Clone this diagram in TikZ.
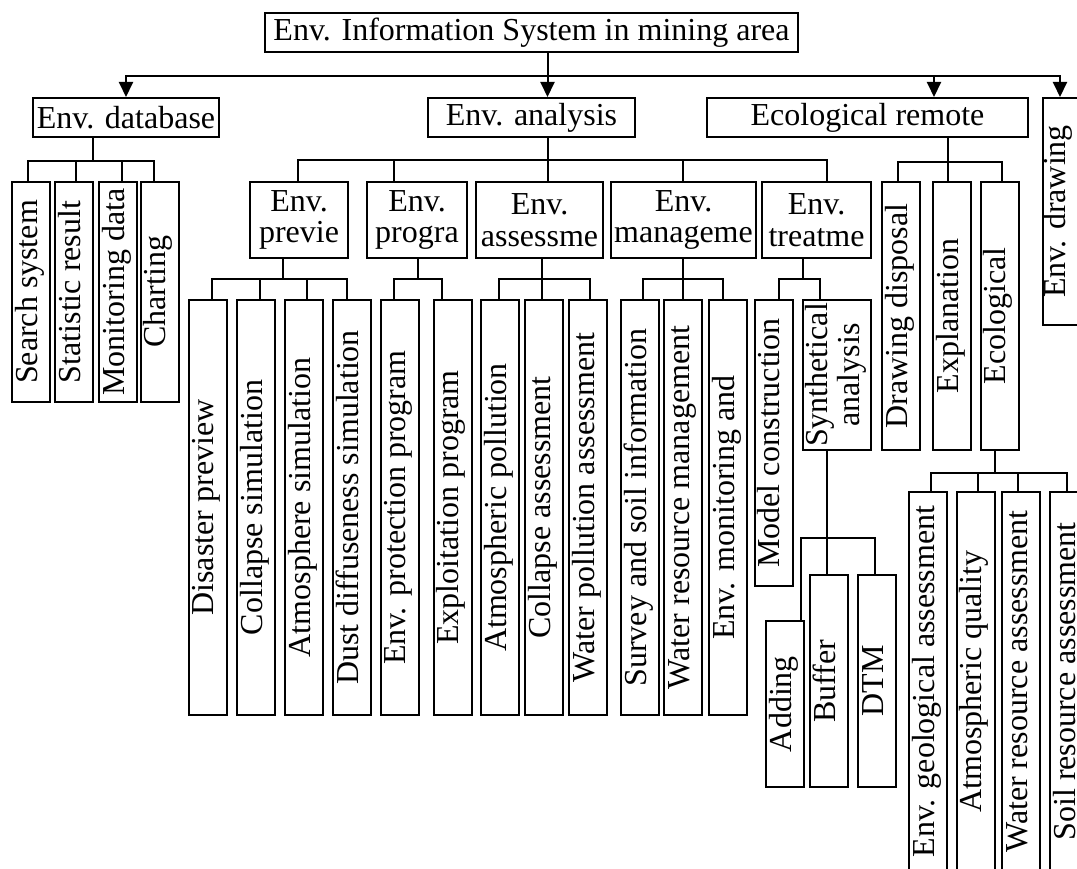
\documentclass[tikz,border=0pt]{standalone}
\usepackage{fontspec}
\setmainfont{Liberation Serif}
\usetikzlibrary{arrows.meta}
\newcommand{\vtxt}[1]{\rotatebox{90}{\strut #1}}
\begin{document}
\begin{tikzpicture}[x=1pt,y=-1pt,
  bx/.style={draw, line width=2pt, inner sep=0pt, font=\fontsize{32}{31.5}\selectfont, align=center},
  hd/.style={bx, minimum height=39},
  lv/.style={bx, minimum width=38},
  ln/.style={line width=2pt},
  arr/.style={ln, -{Triangle[width=14pt,length=15pt]}}]
\useasboundingbox (0,0) rectangle (1077,869);

% level 0
\node[hd, minimum width=533] (top) at (531.5,32.5) {Env. Information System in mining area};
% level 1
\node[hd, minimum width=186] (db) at (126,117.5) {Env. database};
\node[hd, minimum width=207] (an) at (531.5,117.5) {Env. analysis};
\node[hd, minimum width=321] (er) at (867.5,117.5) {Ecological remote};
\node[lv, minimum width=57, minimum height=227] (ed) at (1071.5,211.5) {\vtxt{Env. drawing}\hspace*{24pt}};

% database children
\foreach \n/\x/\t in {d1/31/Search system, d2/74/Statistic result, d3/118/Monitoring data, d4/159.5/Charting}
  \node[lv, minimum height=220] (\n) at (\x,292) {\vtxt{\t}};

% analysis children
\node[bx, minimum width=98, minimum height=76] (pv) at (299,220) {Env.\\previe};
\node[bx, minimum width=100, minimum height=76] (pg) at (417,220) {Env.\\progra};
\node[bx, minimum width=127, minimum height=76] (as) at (539.5,220) {Env.\\assessme};
\node[bx, minimum width=145, minimum height=76] (mg) at (683.5,220) {Env.\\manageme};
\node[bx, minimum width=109, minimum height=76] (tr) at (816.5,220) {Env.\\treatme};

% ecological remote children
\foreach \n/\x/\t in {e1/901/Drawing disposal, e2/952/Explanation, e3/999.5/Ecological}
  \node[lv, minimum height=268] (\n) at (\x,316) {\vtxt{\t}};

% leaves under analysis
\foreach \n/\x/\t in {p1/207.5/Disaster preview, p2/256/Collapse simulation, p3/304/Atmosphere simulation,
    p4/352/Dust diffuseness simulation, g1/399.5/Env. protection program, g2/452.5/Exploitation program,
    a1/500/Atmospheric pollution, a2/544/Collapse assessment, a3/588/Water pollution assessment,
    m1/640/Survey and soil information, m2/683/Water resource management, m3/728/Env. monitoring and}
  \node[lv, minimum height=415] (\n) at (\x,507.5) {\vtxt{\t}};

\node[lv, minimum height=286] (t1) at (773.5,443) {\vtxt{Model construction}};
\node[bx, minimum width=68, minimum height=150] (t2) at (837,375)
  {\rotatebox{90}{\begin{tabular}{@{}c@{}}Synthetical\\analysis\end{tabular}}};

% synthetical analysis children
\node[lv, minimum height=166] (s1) at (785,704) {\vtxt{Adding}};
\node[lv, minimum height=212] (s2) at (829,681) {\vtxt{Buffer}};
\node[lv, minimum height=212] (s3) at (877,681) {\vtxt{DTM}};

% ecological children
\foreach \n/\x/\t in {c1/928/Env. geological assessment, c2/975.5/Atmospheric quality,
    c3/1021/Water resource assessment, c4/1069/Soil resource assessment}
  \node[lv, minimum height=379] (\n) at (\x,681.5) {\vtxt{\t}};

% top arrows
\draw[arr] ([xshift=16]top.south) -- ([xshift=16]an.north);
\foreach \c/\dx in {db/0, er/66.5, ed/-11.5}
  \draw[arr] ([xshift=16]top.south) -- ++(0,23) -| ([xshift=\dx]\c.north);

% brackets
\foreach \c/\dx in {d1/-3, d2/2, d3/4, d4/-5.5}
  \draw[ln] ([xshift=-33]db.south) -- ++(0,23) -| ([xshift=\dx]\c.north);
\foreach \c/\dx in {pv/-1, pg/-23, as/8.5, mg/-0.5, tr/10.5}
  \draw[ln] ([xshift=16.5]an.south) -- ++(0,22) -| ([xshift=\dx]\c.north);
\foreach \c/\dx in {e1/-3, e2/-4, e3/2.5}
  \draw[ln] ([xshift=80.5]er.south) -- ++(0,24) -| ([xshift=\dx]\c.north);
\foreach \c/\dx in {p1/4.5, p2/4, p3/3, p4/-5}
  \draw[ln] ([xshift=-16]pv.south) -- ++(0,20) -| ([xshift=\dx]\c.north);
\foreach \c/\dx in {g1/-5.5, g2/-10.5}
  \draw[ln] ([xshift=1]pg.south) -- ++(0,20) -| ([xshift=\dx]\c.north);
\foreach \c/\dx in {a1/-1, a2/-2, a3/2}
  \draw[ln] ([xshift=2.5]as.south) -- ++(0,20) -| ([xshift=\dx]\c.north);
\foreach \c/\dx in {m1/3, m2/0, m3/-5}
  \draw[ln] ([xshift=-0.5]mg.south) -- ++(0,20) -| ([xshift=\dx]\c.north);
\foreach \c/\dx in {t1/5.5, t2/-17}
  \draw[ln] ([xshift=-13.5]tr.south) -- ++(0,20) -| ([xshift=\dx]\c.north);
\foreach \c/\dx in {s1/16, s2/-2, s3/-2}
  \draw[ln] ([xshift=-10]t2.south) -- ++(0,87) -| ([xshift=\dx]\c.north);
\foreach \c/\dx in {c1/3, c2/2.5, c3/-3, c4/-2}
  \draw[ln] ([xshift=-4.5]e3.south) -- ++(0,22) -| ([xshift=\dx]\c.north);
\end{tikzpicture}
\end{document}
